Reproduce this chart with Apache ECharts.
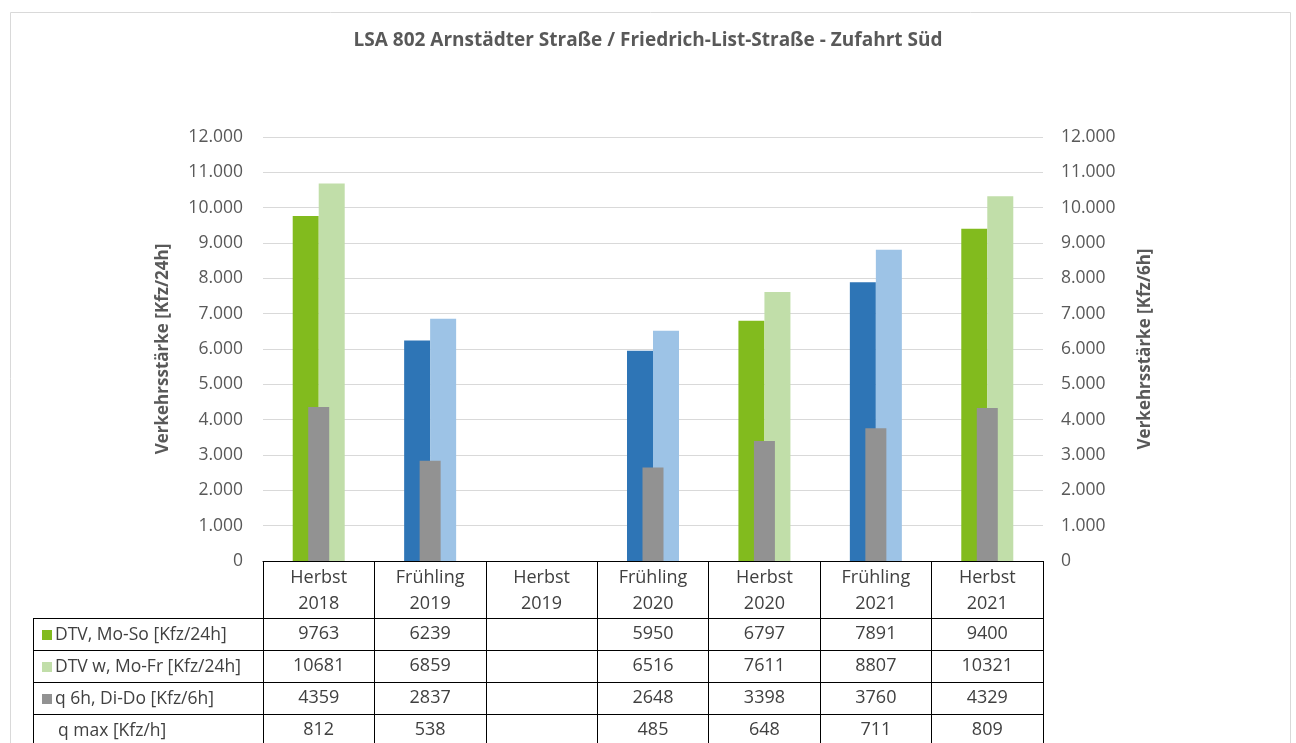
<!DOCTYPE html>
<html>
<head>
<meta charset="utf-8">
<script src="https://cdn.jsdelivr.net/npm/echarts@6/dist/echarts.min.js"></script>
<style>
  html, body { margin: 0; padding: 0; background: #fff; }
  #chart { width: 1296px; height: 743px; }
</style>
</head>
<body>
<div id="chart"></div>
<script>
const categories = ['Herbst 2018', 'Frühling 2019', 'Herbst 2019', 'Frühling 2020', 'Herbst 2020', 'Frühling 2021', 'Herbst 2021']
const dtvMoSo = [9763, 6239, null, 5950, 6797, 7891, 9400]
const dtvMoFr = [10681, 6859, null, 6516, 7611, 8807, 10321]
const q6h = [4359, 2837, null, 2648, 3398, 3760, 4329]
const qMax = [812, 538, null, 485, 648, 711, 809]
const rowLabels = ['DTV, Mo-So [Kfz/24h]', 'DTV w, Mo-Fr [Kfz/24h]', 'q 6h, Di-Do [Kfz/6h]', 'q max [Kfz/h]']

const FONT = '"Open Sans", sans-serif'
const GREEN = '#82bb1e'
const LIGHT_GREEN = '#c1dea9'
const BLUE = '#2e75b6'
const LIGHT_BLUE = '#9dc3e6'
const GREY = '#929292'

// layout of plot + table
const gridLeft = 263
const gridRight = 1043
const gridTop = 137
const gridBottom = 561
const headerBottom = 618
const rowH = 32
const tableLeft = 33

const isHerbst = (c) => c.startsWith('Herbst')
const fmt = (v) => String(v).replace(/\B(?=(\d{3})+(?!\d))/g, '.')

const chart = echarts.init(document.getElementById('chart'))

const rows = [dtvMoSo, dtvMoFr, q6h, qMax]
const keyColors = [GREEN, LIGHT_GREEN, GREY, null]

const rowAxes = rows.map((vals, i) => ({
  type: 'category',
  gridIndex: 0,
  position: 'bottom',
  offset: headerBottom - gridBottom + i * rowH,
  data: categories,
  axisLine: { show: false },
  axisTick: { show: false },
  splitLine: { show: false },
  axisLabel: {
    interval: 0,
    margin: 0,
    lineHeight: rowH,
    fontSize: 18,
    fontFamily: FONT,
    color: '#404040',
    formatter: (v, idx) => (vals[idx] == null ? '' : String(vals[idx])),
  },
}))

const graphic = [
  {
    type: 'rect',
    shape: { x: 10.5, y: 12.5, width: 1280, height: 780 },
    style: { fill: 'none', stroke: '#d9d9d9', lineWidth: 1 },
    silent: true,
  },
  {
    type: 'line',
    shape: { x1: tableLeft + 0.5, y1: headerBottom, x2: tableLeft + 0.5, y2: 760 },
    style: { stroke: '#000', lineWidth: 1 },
  },
]
rowLabels.forEach((label, i) => {
  const top = headerBottom + i * rowH
  graphic.push({
    type: 'line',
    shape: { x1: tableLeft, y1: top + 0.5, x2: gridRight, y2: top + 0.5 },
    style: { stroke: '#000', lineWidth: 1 },
  })
  if (keyColors[i]) {
    graphic.push({
      type: 'rect',
      shape: { x: 42, y: top + rowH / 2 - 4, width: 10, height: 10 },
      style: { fill: keyColors[i] },
    })
  }
  graphic.push({
    type: 'text',
    x: keyColors[i] ? 55 : 58,
    y: top + rowH / 2 + 1,
    style: {
      text: label,
      fontSize: 17.5,
      fontFamily: FONT,
      fill: '#404040',
      verticalAlign: 'middle',
    },
  })
})

const option = {
  animation: false,
  title: {
    text: 'LSA 802 Arnstädter Straße / Friedrich-List-Straße - Zufahrt Süd',
    left: 'center',
    top: 31,
    padding: 0,
    textStyle: { fontSize: 19, fontWeight: 'bold', color: '#595959', fontFamily: FONT },
  },
  grid: {
    left: gridLeft,
    right: 1296 - gridRight,
    top: gridTop,
    bottom: 743 - gridBottom,
    outerBoundsMode: 'none',
    containLabel: false,
  },
  xAxis: [
    {
      type: 'category',
      data: categories,
      axisLine: { show: true, lineStyle: { color: '#000', width: 1 } },
      axisTick: { show: true, length: 200, interval: 0, lineStyle: { color: '#000', width: 1 } },
      axisLabel: {
        interval: 0,
        margin: 4,
        lineHeight: 26,
        fontSize: 18,
        fontFamily: FONT,
        color: '#404040',
        formatter: (v) => v.replace(' ', '\n'),
      },
    },
    {
      type: 'category',
      data: categories,
      show: false,
    },
    ...rowAxes,
  ],
  yAxis: [
    {
      type: 'value',
      min: 0,
      max: 12000,
      interval: 1000,
      name: 'Verkehrsstärke [Kfz/24h]',
      nameLocation: 'middle',
      nameRotate: 90,
      nameGap: 91,
      nameTextStyle: { fontSize: 17, fontWeight: 'bold', color: '#595959', fontFamily: FONT },
      axisLabel: { fontSize: 17.5, color: '#595959', fontFamily: FONT, margin: 20, formatter: fmt },
      axisLine: { show: false },
      axisTick: { show: false },
      splitLine: { lineStyle: { color: '#d9d9d9', width: 1 } },
    },
    {
      type: 'value',
      position: 'right',
      min: 0,
      max: 12000,
      interval: 1000,
      name: 'Verkehrsstärke [Kfz/6h]',
      nameLocation: 'middle',
      nameRotate: 90,
      nameGap: 94,
      nameTextStyle: { fontSize: 17, fontWeight: 'bold', color: '#595959', fontFamily: FONT },
      axisLabel: { fontSize: 17.5, color: '#595959', fontFamily: FONT, margin: 18, formatter: fmt },
      axisLine: { show: false },
      axisTick: { show: false },
      splitLine: { show: false },
    },
  ],
  series: [
    {
      name: 'DTV, Mo-So [Kfz/24h]',
      type: 'bar',
      xAxisIndex: 0,
      yAxisIndex: 0,
      barWidth: 26,
      barGap: '0%',
      data: dtvMoSo.map((v, i) => ({
        value: v,
        itemStyle: { color: isHerbst(categories[i]) ? GREEN : BLUE },
      })),
    },
    {
      name: 'DTV w, Mo-Fr [Kfz/24h]',
      type: 'bar',
      xAxisIndex: 0,
      yAxisIndex: 0,
      barWidth: 26,
      barGap: '0%',
      data: dtvMoFr.map((v, i) => ({
        value: v,
        itemStyle: { color: isHerbst(categories[i]) ? LIGHT_GREEN : LIGHT_BLUE },
      })),
    },
    {
      name: 'q 6h, Di-Do [Kfz/6h]',
      type: 'bar',
      xAxisIndex: 1,
      yAxisIndex: 1,
      barWidth: 21,
      itemStyle: { color: GREY },
      data: q6h,
      z: 3,
    },
  ],
  graphic,
}

chart.setOption(option)
</script>
</body>
</html>
